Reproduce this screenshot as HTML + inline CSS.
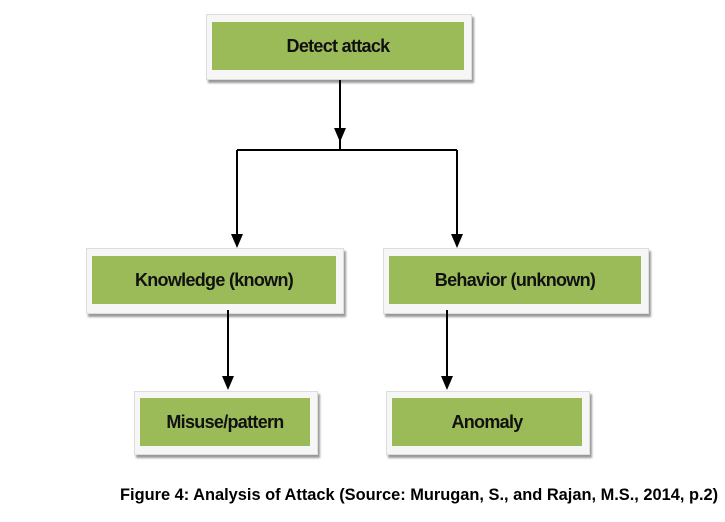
<!DOCTYPE html>
<html><head><style>
body{margin:0;width:725px;height:522px;background:#fff;position:relative;overflow:hidden;font-family:"Liberation Sans",sans-serif}
.f{position:absolute;background:#f6f6f6;border:1px solid #ddd;box-shadow:2px 3px 2px #999}
.g{position:absolute;background:#9bbb59;display:flex;align-items:center;justify-content:center;font-weight:bold;font-size:18px;color:#111;letter-spacing:-0.7px}
.cap{position:absolute;left:120px;top:486px;font-weight:bold;font-size:16.4px;color:#000;white-space:nowrap}
</style></head><body>
<div class="f" style="left:206px;top:14px;width:264px;height:64px"></div>
<div class="g" style="left:212px;top:22px;width:252px;height:48px">Detect attack</div>
<div class="f" style="left:86px;top:248px;width:256px;height:64px"></div>
<div class="g" style="left:92px;top:256px;width:244px;height:48px">Knowledge (known)</div>
<div class="f" style="left:383px;top:248px;width:264px;height:64px"></div>
<div class="g" style="left:389px;top:256px;width:252px;height:48px">Behavior (unknown)</div>
<div class="f" style="left:134px;top:391px;width:182px;height:62px"></div>
<div class="g" style="left:140px;top:398px;width:170px;height:48px">Misuse/pattern</div>
<div class="f" style="left:386px;top:391px;width:202px;height:62px"></div>
<div class="g" style="left:392px;top:398px;width:190px;height:48px">Anomaly</div>
<svg width="725" height="522" style="position:absolute;left:0;top:0">
<g stroke="#000" stroke-width="2" fill="none">
<path d="M340 80V137M237 150H457M237 150V235M457 150V235M228 310V377M447 310V377M340 137V150"/>
</g>
<g fill="#000">
<path d="M334 128H346L340 142Z"/>
<path d="M231 234H243L237 248Z"/>
<path d="M451 234H463L457 248Z"/>
<path d="M222 376H234L228 390Z"/>
<path d="M441 376H453L447 390Z"/>
</g>
</svg>
<div class="cap">Figure 4: Analysis of Attack (Source: Murugan, S., and Rajan, M.S., 2014, p.2)</div>
</body></html>
